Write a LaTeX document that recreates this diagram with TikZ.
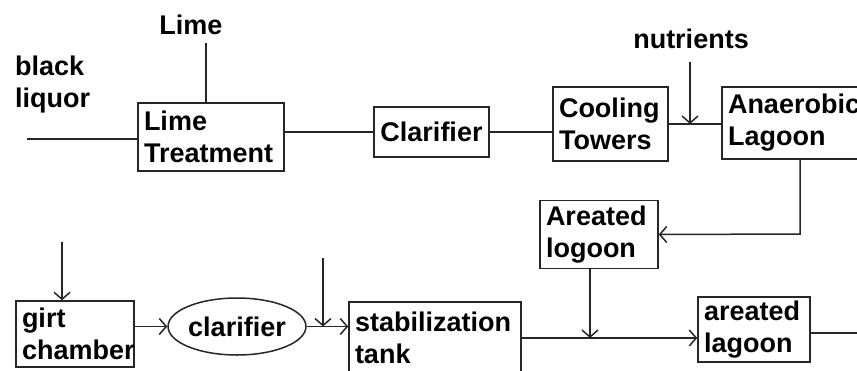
\documentclass[tikz,border=0pt]{standalone}
\usepackage{fontspec}
\setmainfont{Liberation Sans}
\usetikzlibrary{arrows.meta,shapes.geometric}
\tikzset{
	unitbox/.style={draw=black!85, line width=1.5pt, align=left, inner xsep=6pt, inner ysep=0pt, font=\fontsize{27}{32}\selectfont\bfseries},
	oval/.style={draw=black!85, ellipse, line width=1.5pt, inner sep=0pt, font=\fontsize{27}{32}\selectfont\bfseries},
	tag/.style={inner sep=0pt, align=left, font=\fontsize{27}{32}\selectfont\bfseries},
	pipe/.style={draw=black!85, line width=1.5pt},
	feed/.style={pipe, -{Straight Barb[length=7pt,width=16pt]}}
}

\begin{document}
\begin{tikzpicture}[x=1pt, y=-1pt]
		%%%%% START %%%%%
		\useasboundingbox (0, 0) rectangle (857, 370);
		\clip (0, 0) rectangle (857, 370);
		
		% top line
		\node[tag] (lime) at (191, 25) {Lime};
		\node[tag, anchor=west] (liquor) at (15, 85) {black\\liquor};
		\node[tag] (nutr) at (691, 39) {nutrients};
		
		\node[unitbox, text width=134pt, minimum height=68pt] (treat) at (211, 137) {Lime\\Treatment};
		\node[unitbox, text width=103pt, minimum height=50pt, align=center] (clar) at (431.5, 132) {Clarifier};
		\node[unitbox, text width=103pt, minimum height=74pt] (cool) at (610.5, 124) {Cooling\\Towers};
		\node[unitbox, text width=138pt, minimum height=72pt] (anaer) at (797, 123) {Anaerobic\\Lagoon};
		
		% middle
		\node[unitbox, text width=106pt, minimum height=68pt] (areat) at (599, 234.5) {Areated\\logoon};
		
		% bottom line
		\node[unitbox, text width=106pt, minimum height=66pt] (girt) at (75, 334) {girt\\chamber};
		\node[oval, minimum width=125pt, minimum height=57pt] (clar2) at (237, 326.5) {clarifier};
		\node[unitbox, text width=160pt, minimum height=72pt] (stab) at (435, 338) {stabilization\\tank};
		\node[unitbox, text width=100pt, minimum height=65pt] (aer2) at (754, 329.5) {areated\\lagoon};
		
		\coordinate (liqin) at (27, 139);
		\coordinate (limein) at (206, 43);
		\coordinate (nutin) at (690, 62);
		\coordinate (turn) at (800, 234);
		\coordinate (girtin) at (62, 242);
		\coordinate (stabin) at (323, 258);
		\coordinate (drop) at (590, 338);
		\coordinate (out) at (857, 333);
		
		\draw[pipe] (liqin) -- (liqin -| treat.west);
		\draw[pipe] (limein) -- (limein |- treat.north);
		\draw[pipe] (treat.east |- clar.west) -- (clar.west);
		\draw[pipe] (clar.east) -- (clar.east -| cool.west);
		\draw[pipe] (cool.east) -- (cool.east -| anaer.west);
		\draw[feed] (nutin) -- (nutin |- cool.east);
		\draw[feed] (turn |- anaer.south) -- (turn) -- (areat.east);
		
		\draw[feed] (girtin) -- (girtin |- girt.north);
		\draw[feed] (girt.east |- clar2.west) -- (clar2.west);
		\draw[feed] (clar2.east) -- (clar2.east -| stab.west);
		\draw[feed] (stabin) -- (stabin |- clar2.east);
		\draw[feed] (stab.east) -- (stab.east -| aer2.west);
		\draw[feed] (drop |- areat.south) -- (drop);
		\draw[pipe] (aer2.east |- out) -- (out);
		%%%%% END %%%%%
\end{tikzpicture}
\end{document}
